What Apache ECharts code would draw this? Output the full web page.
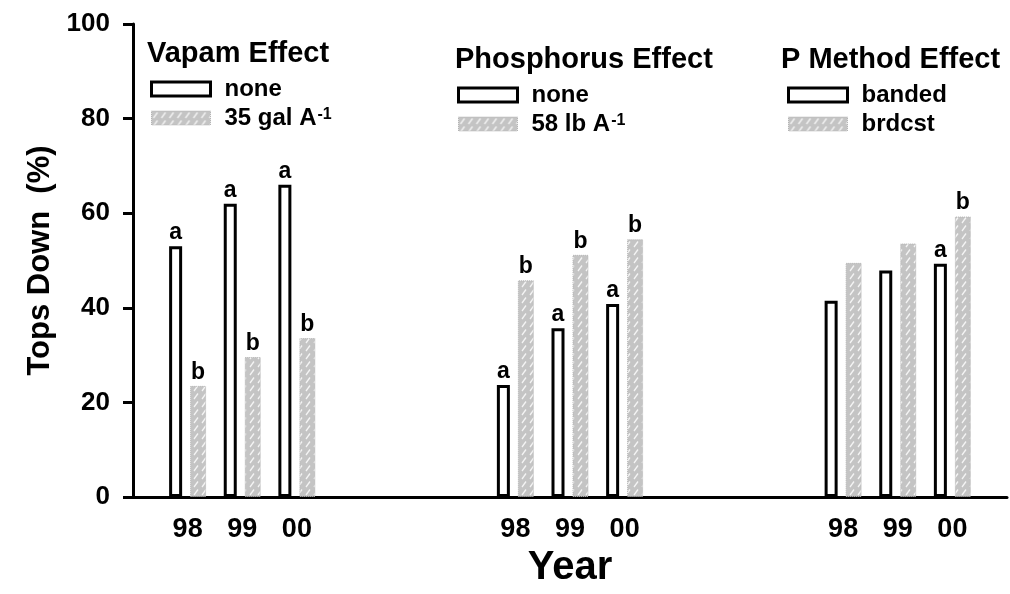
<!DOCTYPE html>
<html>
<head>
<meta charset="utf-8">
<script src="https://cdn.jsdelivr.net/npm/echarts@6/dist/echarts.min.js"></script>
<style>
html,body{margin:0;padding:0;background:#fff}
#main{width:1010px;height:594px}
</style>
</head>
<body>
<div id="main"></div>
<script>
// years shown under each group, and the category slot where each group begins
var years = ['98', '99', '00'];
var groupStart = [1, 7, 13];
var slotCount = 17;

// Tops down (%)
var vapamNone  = [53, 62, 66];
var vapamTrt   = [23.5, 29.6, 33.6];
var phosNone   = [23.7, 35.7, 40.8];
var phosTrt    = [45.8, 51.2, 54.5];
var methBanded = [41.5, 47.9, 49.3];
var methBrdcst = [49.5, 53.6, 59.3];

// mean separation letters
var vapamNoneSig  = ['a', 'a', 'a'];
var vapamTrtSig   = ['b', 'b', 'b'];
var phosNoneSig   = ['a', 'a', 'a'];
var phosTrtSig    = ['b', 'b', 'b'];
var methBandedSig = ['', '', 'a'];
var methBrdcstSig = ['', '', 'b'];

var groupTitles = ['Vapam Effect', 'Phosphorus Effect', 'P Method Effect'];
var legendText = {
    vapamNone: 'none', vapamTrt: '35 gal A{sup|-1}',
    phosNone: 'none', phosTrt: '58 lb A{sup|-1}',
    methBanded: 'banded', methBrdcst: 'brdcst'
};

var FONT = '"Liberation Sans", Arial, sans-serif';

var categories = [];
for (var i = 0; i < slotCount; i++) categories.push('');
groupStart.forEach(function (s) {
    for (var k = 0; k < years.length; k++) categories[s + k] = years[k];
});

// gray fill with white hatch dashes
var tile = document.createElement('canvas');
tile.width = 8; tile.height = 8;
var c = tile.getContext('2d');
c.fillStyle = '#c4c4c4';
c.fillRect(0, 0, 8, 8);
c.strokeStyle = '#f4f4f4';
c.lineWidth = 1.3;
c.beginPath(); c.moveTo(2, 7); c.lineTo(6, 1.5); c.stroke();
var hatch = { image: tile, repeat: 'repeat' };

var noneStyle = { color: '#fff', borderColor: '#000', borderWidth: 3 };
var trtStyle = { color: hatch, borderColor: '#b4b4b4', borderWidth: 1, borderType: 'dotted' };

function makeBar(name, vals, sig, g, treated) {
    var data = [];
    for (var i = 0; i < slotCount; i++) data.push('-');
    for (var k = 0; k < vals.length; k++) data[groupStart[g] + k] = vals[k];
    return {
        name: name,
        type: 'bar',
        stack: treated ? 'trt' : 'none',
        barWidth: treated ? 16 : 13,
        barGap: '61.5%',
        data: data,
        itemStyle: treated ? trtStyle : noneStyle,
        label: {
            show: true,
            position: 'top',
            distance: 2,
            color: '#000',
            fontFamily: FONT,
            fontWeight: 'bold',
            fontSize: 23,
            formatter: function (p) { return sig[p.dataIndex - groupStart[g]] || ''; }
        }
    };
}

var legendPos = [[150, 77], [457, 83], [787, 83]];
var legendKeys = [['vapamNone', 'vapamTrt'], ['phosNone', 'phosTrt'], ['methBanded', 'methBrdcst']];
var titlePos = [[147, 39], [455, 45], [781, 45]];

var myChart = echarts.init(document.getElementById('main'));
var option = {
    animation: false,
    backgroundColor: '#fff',
    title: groupTitles.map(function (t, i) {
        return {
            text: t, left: titlePos[i][0], top: titlePos[i][1], padding: 0,
            textStyle: { fontFamily: FONT, fontWeight: 'bold', fontSize: 29, color: '#000' }
        };
    }),
    legend: legendKeys.map(function (keys, i) {
        return {
            orient: 'vertical',
            left: legendPos[i][0],
            top: legendPos[i][1],
            padding: 0,
            itemGap: 5,
            itemWidth: 59,
            itemHeight: 14,
            selectedMode: false,
            data: [
                { name: keys[0], icon: 'rect', itemStyle: { color: '#fff', borderColor: '#000', borderWidth: 3 } },
                { name: keys[1], icon: 'rect', itemStyle: { borderColor: '#b4b4b4', borderWidth: 1, borderType: 'dotted' } }
            ],
            formatter: function (name) { return legendText[name]; },
            textStyle: {
                fontFamily: FONT, fontWeight: 'bold', fontSize: 24, color: '#000',
                lineHeight: 22, padding: [0, 0, 0, 9],
                rich: { sup: { fontFamily: FONT, fontWeight: 'bold', fontSize: 16, color: '#000', verticalAlign: 'top', lineHeight: 22, padding: [0, 0, 12, 1] } }
            }
        };
    }),
    grid: { left: 133, right: 0, top: 24, bottom: 97 },
    xAxis: {
        type: 'category',
        data: categories,
        boundaryGap: false,
        axisLine: { lineStyle: { color: '#000', width: 3 } },
        axisTick: { show: false },
        axisLabel: { interval: 0, margin: 19, color: '#000', fontFamily: FONT, fontWeight: 'bold', fontSize: 27 },
        name: 'Year',
        nameLocation: 'middle',
        nameGap: 50,
        nameTextStyle: { color: '#000', fontFamily: FONT, fontWeight: 'bold', fontSize: 40 }
    },
    yAxis: {
        type: 'value',
        min: 0, max: 100, interval: 20,
        axisLine: { show: true, lineStyle: { color: '#000', width: 3 } },
        axisTick: { show: true, length: 10, lineStyle: { color: '#000', width: 3 } },
        splitLine: { show: false },
        axisLabel: { margin: 23, color: '#000', fontFamily: FONT, fontWeight: 'bold', fontSize: 26 },
        name: 'Tops Down  (%)',
        nameLocation: 'middle',
        nameGap: 68,
        nameTextStyle: { color: '#000', fontFamily: FONT, fontWeight: 'bold', fontSize: 31 }
    },
    series: [
        makeBar('vapamNone', vapamNone, vapamNoneSig, 0, false),
        makeBar('vapamTrt', vapamTrt, vapamTrtSig, 0, true),
        makeBar('phosNone', phosNone, phosNoneSig, 1, false),
        makeBar('phosTrt', phosTrt, phosTrtSig, 1, true),
        makeBar('methBanded', methBanded, methBandedSig, 2, false),
        makeBar('methBrdcst', methBrdcst, methBrdcstSig, 2, true)
    ]
};
myChart.setOption(option);
</script>
</body>
</html>
